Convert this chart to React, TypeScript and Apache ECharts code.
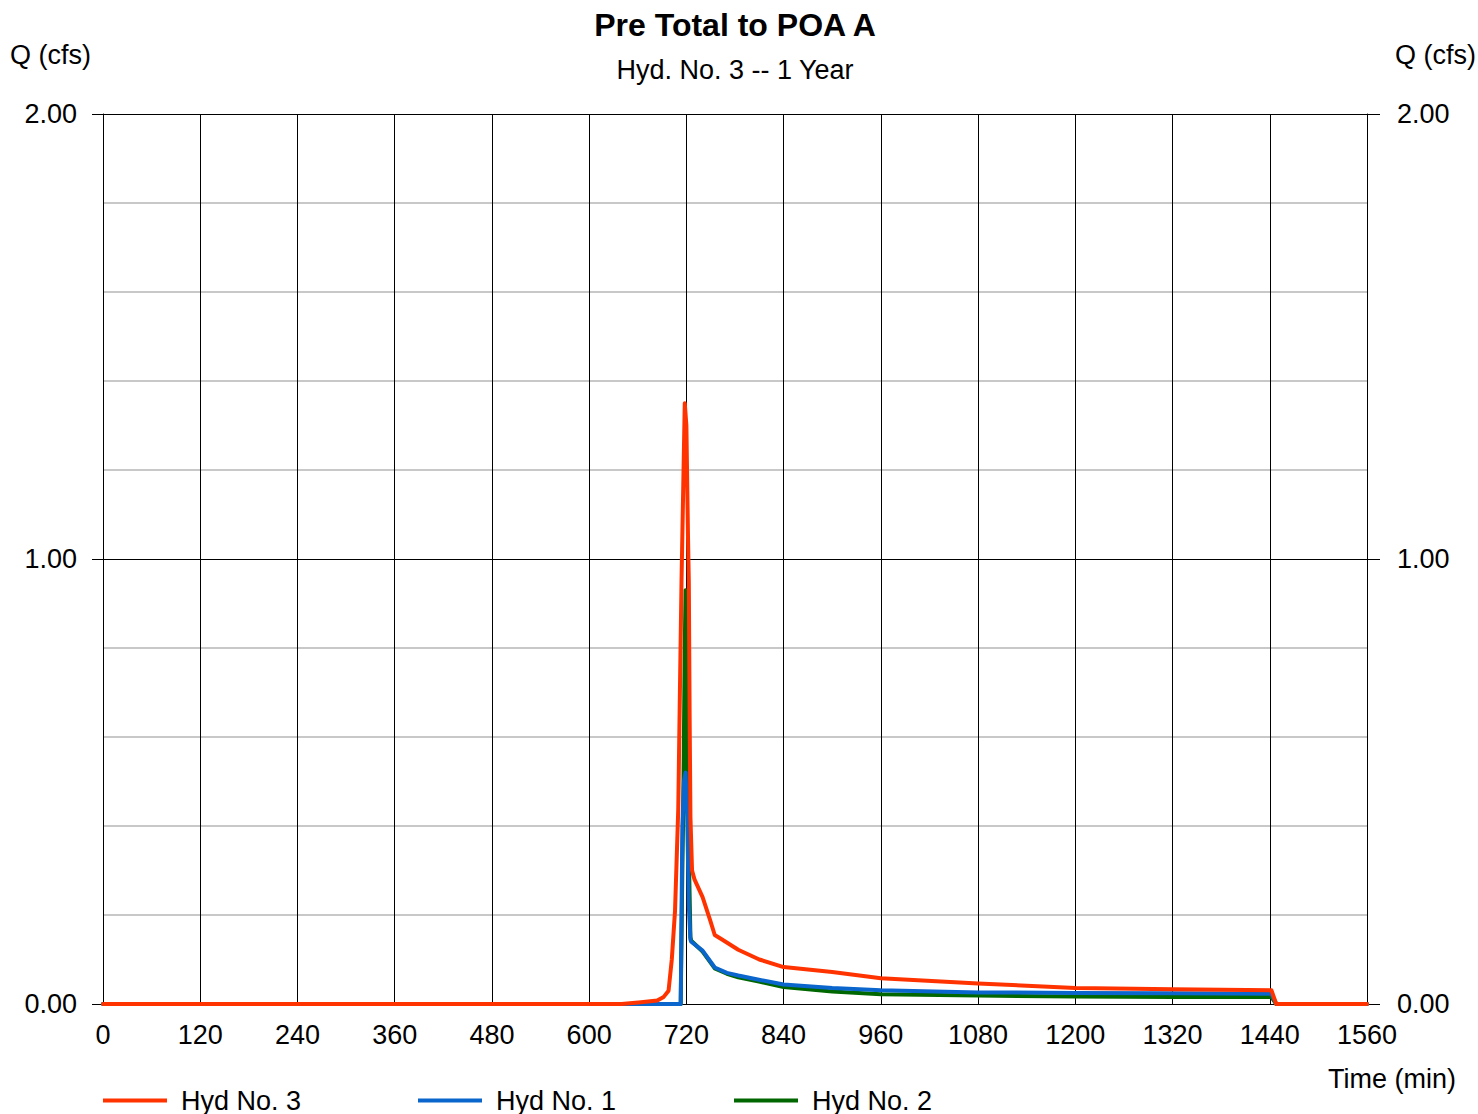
import React, { useEffect, useRef } from "react";
import * as echarts from "echarts";

// ---- Data (minutes, cfs) ----
const hyd3Times = [0, 640, 664, 684, 692, 698, 702, 706, 710, 712, 714, 716, 718, 720, 722, 723, 724, 725, 727, 730, 740, 749, 755, 764, 784, 810, 840, 900, 960, 1080, 1200, 1320, 1442, 1448, 1560];
const hyd3Values = [0, 0, 0.004, 0.008, 0.016, 0.03, 0.1, 0.21, 0.44, 0.7, 0.95, 1.15, 1.35, 1.3, 1.05, 0.95, 0.65, 0.42, 0.3, 0.28, 0.24, 0.19, 0.155, 0.145, 0.122, 0.1, 0.083, 0.072, 0.058, 0.046, 0.036, 0.033, 0.031, 0, 0];

const hyd1Times = [0, 713, 715, 717, 719, 721, 723, 725, 726, 740, 755, 770, 784, 811, 840, 900, 960, 1080, 1200, 1320, 1442, 1448, 1560];
const hyd1Values = [0, 0, 0.4, 0.5, 0.52, 0.42, 0.22, 0.145, 0.14, 0.12, 0.082, 0.07, 0.064, 0.054, 0.044, 0.036, 0.031, 0.026, 0.025, 0.024, 0.023, 0, 0];

const hyd2Times = [0, 713, 715, 716, 718, 719, 720, 722, 723.5, 725, 726, 740, 755, 770, 784, 811, 840, 900, 960, 1080, 1200, 1320, 1442, 1448, 1560];
const hyd2Values = [0, 0, 0.3, 0.42, 0.8, 0.93, 0.75, 0.45, 0.29, 0.15, 0.142, 0.118, 0.08, 0.068, 0.06, 0.05, 0.038, 0.028, 0.022, 0.019, 0.017, 0.016, 0.016, 0, 0];

const seriesNames = ["Hyd No. 3", "Hyd No. 1", "Hyd No. 2"];
const seriesColors = ["#ff3300", "#0a66cc", "#006600"];

const xMin = 0;
const xMax = 1560;
const xInterval = 120;
const yMin = 0;
const yMax = 2;
const yInterval = 1;

const titleText = "Pre Total to POA A";
const subtitleText = "Hyd. No. 3 -- 1 Year";
const yAxisName = "Q (cfs)";
const xAxisName = "Time (min)";

const FONT = "'Liberation Sans', Arial, sans-serif";
const FS = 27;

function pairs(t: number[], v: number[]) {
  return t.map((x, i) => [x, v[i]]);
}

export default function App() {
  const ref = useRef<HTMLDivElement>(null);
  useEffect(() => {
    if (!ref.current) return;
    const chart = echarts.init(ref.current, undefined, { renderer: "svg" });
    const datasets = [
      pairs(hyd3Times, hyd3Values),
      pairs(hyd1Times, hyd1Values),
      pairs(hyd2Times, hyd2Values),
    ];
    const zs = [5, 4, 3];
    const legendLefts = [98, 413, 729];
    const yLabel = (v: number) => v.toFixed(2);
    chart.setOption({
      animation: false,
      textStyle: { fontFamily: FONT },
      grid: { left: 103, right: 111, top: 114, bottom: 110 },
      xAxis: {
        type: "value",
        min: xMin,
        max: xMax,
        interval: xInterval,
        axisLine: { show: true, lineStyle: { color: "#000", width: 1 } },
        axisTick: { show: false },
        axisLabel: { color: "#000", fontSize: FS, margin: 17, fontFamily: FONT, formatter: (v: number) => String(v) },
        splitLine: { show: true, lineStyle: { color: "#000", width: 1 } },
      },
      yAxis: [
        {
          type: "value",
          position: "left",
          min: yMin,
          max: yMax,
          interval: yInterval,
          axisLine: { show: true, lineStyle: { color: "#000", width: 1 } },
          axisTick: { show: true, inside: false, length: 11, lineStyle: { color: "#000" } },
          axisLabel: { color: "#000", fontSize: FS, margin: 26, formatter: yLabel, fontFamily: FONT },
          splitLine: { show: true, lineStyle: { color: "#000", width: 1 } },
          minorTick: { show: false, splitNumber: 5 },
          minorSplitLine: { show: true, lineStyle: { color: "#c8c8c8", width: 2 } },
        },
        {
          type: "value",
          position: "right",
          min: yMin,
          max: yMax,
          interval: yInterval,
          axisLine: { show: true, lineStyle: { color: "#000", width: 1 } },
          axisTick: { show: true, inside: false, length: 13, lineStyle: { color: "#000" } },
          axisLabel: { color: "#000", fontSize: FS, margin: 30, formatter: yLabel, fontFamily: FONT },
          splitLine: { show: false },
        },
      ],
      legend: seriesNames.map((name, i) => ({
        data: [name],
        left: legendLefts[i],
        top: 1082,
        icon: "rect",
        itemWidth: 64,
        itemHeight: 4,
        selectedMode: false,
        textStyle: { color: "#000", fontSize: FS, fontFamily: FONT, padding: [0, 0, 0, 9] },
      })),
      graphic: [
        {
          type: "text",
          x: 735,
          y: 25,
          style: { text: titleText, font: `bold 32px ${FONT}`, fill: "#000", textAlign: "center", textVerticalAlign: "middle" },
        },
        {
          type: "text",
          x: 735,
          y: 70,
          style: { text: subtitleText, font: `${FS}px ${FONT}`, fill: "#000", textAlign: "center", textVerticalAlign: "middle" },
        },
        {
          type: "text",
          x: 10,
          y: 55,
          style: { text: yAxisName, font: `${FS}px ${FONT}`, fill: "#000", textAlign: "left", textVerticalAlign: "middle" },
        },
        {
          type: "text",
          x: 1476,
          y: 55,
          style: { text: yAxisName, font: `${FS}px ${FONT}`, fill: "#000", textAlign: "right", textVerticalAlign: "middle" },
        },
        {
          type: "text",
          x: 1456,
          y: 1079,
          style: { text: xAxisName, font: `${FS}px ${FONT}`, fill: "#000", textAlign: "right", textVerticalAlign: "middle" },
        },
      ],
      series: seriesNames.map((name, i) => ({
        name,
        type: "line",
        yAxisIndex: 0,
        data: datasets[i],
        showSymbol: false,
        symbol: "none",
        z: zs[i],
        lineStyle: { color: seriesColors[i], width: 4, cap: "round", join: "round" },
        itemStyle: { color: seriesColors[i] },
      })),
    });
    return () => chart.dispose();
  }, []);
  return <div ref={ref} style={{ position: "absolute", left: 0, top: 0, width: 1478, height: 1114 }} />;
}
